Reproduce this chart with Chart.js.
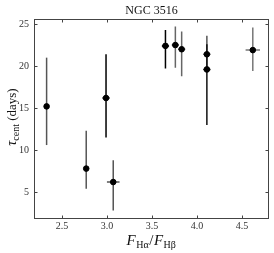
<!DOCTYPE html>
<html>
<head>
<meta charset="utf-8">
<script src="https://cdn.jsdelivr.net/npm/chart.js@4"></script>
<style>
  html, body { margin: 0; padding: 0; background: #fff; }
  #wrap { width: 274px; height: 253px; }
</style>
</head>
<body>
<div id="wrap"><canvas id="lagChart" width="274" height="253"></canvas></div>
<script>
// flux ratio F(Ha)/F(Hb) and centroid lag (days)
var ratio    = [2.33, 2.77, 2.99, 3.07, 3.65, 3.76, 3.83, 4.11, 4.11, 4.62];
var ratioErr = [0.00, 0.00, 0.04, 0.07, 0.04, 0.04, 0.04, 0.04, 0.04, 0.08];
var tau      = [15.2, 7.8, 16.2, 6.2, 22.4, 22.5, 22.0, 21.4, 19.6, 21.9];
var tauUp    = [21.0, 12.3, 21.4, 8.8, 24.3, 24.7, 24.1, 23.6, 22.6, 24.6];
var tauLo    = [10.6, 5.4, 11.5, 2.8, 19.7, 19.8, 18.8, 19.9, 13.0, 19.4];
var barColor = ['#555', '#555', '#000', '#555', '#000', '#666', '#666', '#555', '#111', '#777'];
var xTicks = [2.5, 3.0, 3.5, 4.0, 4.5];
var yTicks = [5, 10, 15, 20, 25];

var serif = "'Liberation Serif', 'DejaVu Serif', serif";

var errorBars = {
	id: 'errorBars',
	beforeDatasetsDraw: function (chart) {
		var c = chart.ctx, xs = chart.scales.x, ys = chart.scales.y;
		c.save();
		c.lineWidth = 1.5;
		for (var i = 0; i < ratio.length; i++) {
			c.strokeStyle = barColor[i];
			var px = xs.getPixelForValue(ratio[i]);
			var py = ys.getPixelForValue(tau[i]);
			c.beginPath();
			c.moveTo(px, ys.getPixelForValue(tauUp[i]));
			c.lineTo(px, ys.getPixelForValue(tauLo[i]));
			if (ratioErr[i] > 0) {
				c.moveTo(xs.getPixelForValue(ratio[i] - ratioErr[i]), py);
				c.lineTo(xs.getPixelForValue(ratio[i] + ratioErr[i]), py);
			}
			c.stroke();
		}
		c.restore();
	}
};

// box frame, inward ticks, title and axis labels
var frame = {
	id: 'frame',
	afterDraw: function (chart) {
		var c = chart.ctx, a = chart.chartArea, xs = chart.scales.x, ys = chart.scales.y;
		c.save();
		c.strokeStyle = '#444';
		c.lineWidth = 1;
		c.strokeRect(a.left + 0.5, a.top + 0.5, a.right - a.left - 1, a.bottom - a.top - 1);
		c.beginPath();
		xTicks.forEach(function (v) {
			var p = Math.round(xs.getPixelForValue(v)) + 0.5;
			c.moveTo(p, a.bottom); c.lineTo(p, a.bottom - 3.5);
			c.moveTo(p, a.top); c.lineTo(p, a.top + 3.5);
		});
		yTicks.forEach(function (v) {
			var p = Math.round(ys.getPixelForValue(v)) + 0.5;
			c.moveTo(a.left, p); c.lineTo(a.left + 3.5, p);
			c.moveTo(a.right, p); c.lineTo(a.right - 3.5, p);
		});
		c.stroke();

		c.fillStyle = '#111';
		c.textBaseline = 'alphabetic';
		c.textAlign = 'center';
		c.font = '12px ' + serif;
		c.fillText('NGC 3516', (a.left + a.right) / 2, 14);

		// x label: F_Ha / F_Hb
		var big = 'italic 15px ' + serif, sub = '10px ' + serif, up = '15px ' + serif;
		var parts = [[big, 'F', 0], [sub, 'H\u03b1', 3], [up, '/', 0], [big, 'F', 0], [sub, 'H\u03b2', 3]];
		c.textAlign = 'left';
		var w = 0;
		parts.forEach(function (p) { c.font = p[0]; w += c.measureText(p[1]).width + 0.5; });
		var x = (a.left + a.right) / 2 - w / 2, base = 245;
		parts.forEach(function (p) { c.font = p[0]; c.fillText(p[1], x, base + p[2]); x += c.measureText(p[1]).width + 0.5; });

		// y label: tau_cent (days)
		c.translate(12, (a.top + a.bottom) / 2 - 2);
		c.rotate(-Math.PI / 2);
		var yparts = [['italic 14px ' + serif, '\u03c4', 0], ['10px ' + serif, 'cent', 3], ['13px ' + serif, ' (days)', 0]];
		w = 0;
		yparts.forEach(function (p) { c.font = p[0]; w += c.measureText(p[1]).width; });
		x = -w / 2;
		yparts.forEach(function (p) { c.font = p[0]; c.fillText(p[1], x, 4 + p[2]); x += c.measureText(p[1]).width; });
		c.restore();
	}
};

var ctx = document.getElementById('lagChart').getContext('2d');
var lagChart = new Chart(ctx, {
	type: 'scatter',
	data: {
		datasets: [{
			data: ratio.map(function (r, i) { return { x: r, y: tau[i] }; }),
			backgroundColor: '#000',
			borderColor: '#000',
			pointRadius: 2.8,
			pointHoverRadius: 2.8
		}]
	},
	options: {
		responsive: false,
		animation: false,
		layout: { padding: { top: 19, right: 5, left: 0, bottom: 0 } },
		plugins: { legend: { display: false }, tooltip: { enabled: false } },
		scales: {
			x: {
				type: 'linear',
				min: 2.19,
				max: 4.80,
				afterBuildTicks: function (axis) { axis.ticks = xTicks.map(function (v) { return { value: v }; }); },
				afterFit: function (axis) { axis.height = 34; },
				ticks: {
					color: '#333',
					font: { family: serif, size: 10 },
					padding: 1,
					maxRotation: 0,
					callback: function (v) { return v.toFixed(1); }
				},
				grid: { display: false, drawTicks: false },
				border: { display: false }
			},
			y: {
				min: 1.8,
				max: 25.6,
				afterBuildTicks: function (axis) { axis.ticks = yTicks.map(function (v) { return { value: v }; }); },
				afterFit: function (axis) { axis.width = 34; },
				ticks: {
					color: '#333',
					font: { family: serif, size: 10 },
					padding: 5
				},
				grid: { display: false, drawTicks: false },
				border: { display: false }
			}
		}
	},
	plugins: [errorBars, frame]
});
</script>
</body>
</html>
